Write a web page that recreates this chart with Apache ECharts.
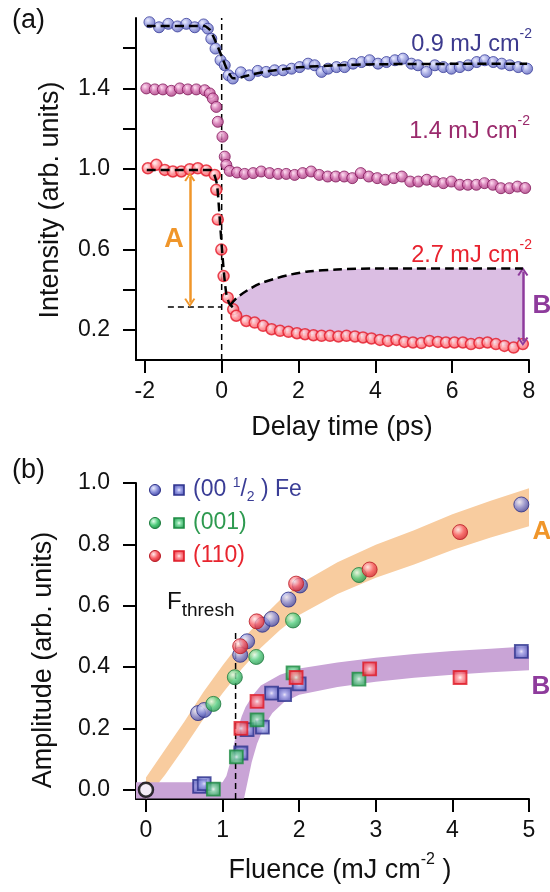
<!DOCTYPE html>
<html><head><meta charset="utf-8">
<script src="https://cdn.jsdelivr.net/npm/echarts@6/dist/echarts.min.js"></script>
<style>html,body{margin:0;padding:0;background:#fff}#c{width:550px;height:892px}</style>
</head><body><div id="c"></div>
<script>
// ---------- Panel (a): delay-time traces ----------
const blueT = [-1.88,-1.63,-1.39,-1.15,-0.92,-0.70,-0.47,-0.36,-0.27,-0.16,-0.03,0.08,0.18,0.29,0.50,0.72,0.94,1.16,1.38,1.60,1.82,2.03,2.25,2.42,2.60,2.77,2.99,3.20,3.42,3.64,3.85,4.07,4.29,4.51,4.72,4.94,5.11,5.33,5.55,5.77,5.98,6.20,6.42,6.64,6.85,7.07,7.29,7.50,7.72,7.95];
const blueI = [1.729,1.704,1.721,1.708,1.721,1.704,1.718,1.697,1.647,1.598,1.54,1.515,1.465,1.449,1.48,1.465,1.487,1.482,1.49,1.49,1.498,1.506,1.523,1.515,1.482,1.498,1.506,1.506,1.523,1.531,1.54,1.523,1.531,1.54,1.548,1.523,1.515,1.482,1.515,1.506,1.498,1.506,1.515,1.531,1.54,1.531,1.523,1.515,1.506,1.498];

const magentaT = [-1.96,-1.74,-1.53,-1.31,-1.09,-0.88,-0.66,-0.44,-0.31,-0.23,-0.14,-0.10,0.02,0.08,0.12,0.21,0.40,0.60,0.82,1.03,1.25,1.47,1.68,1.90,2.11,2.33,2.54,2.76,2.97,3.19,3.40,3.62,3.83,4.05,4.26,4.48,4.69,4.91,5.12,5.34,5.55,5.77,5.98,6.20,6.41,6.63,6.84,7.06,7.27,7.49,7.70,7.90];
const magentaI = [1.40,1.395,1.395,1.388,1.40,1.395,1.395,1.391,1.375,1.35,1.308,1.234,1.16,1.061,1.02,0.99,0.982,0.975,0.979,0.987,0.979,0.975,0.975,0.970,0.979,0.987,0.970,0.962,0.962,0.962,0.954,0.979,0.962,0.954,0.946,0.954,0.962,0.937,0.937,0.946,0.937,0.929,0.937,0.921,0.921,0.921,0.929,0.921,0.904,0.904,0.912,0.905];

const redT = [-1.92,-1.70,-1.48,-1.27,-1.05,-0.83,-0.62,-0.40,-0.18,-0.14,-0.10,-0.01,0.05,0.16,0.30,0.38,0.64,0.86,1.08,1.30,1.52,1.74,1.96,2.17,2.39,2.60,2.82,3.04,3.25,3.47,3.68,3.90,4.12,4.33,4.55,4.76,4.98,5.20,5.41,5.63,5.84,6.06,6.28,6.49,6.71,6.92,7.14,7.36,7.60,7.84];
const redI = [1.003,1.02,0.995,0.987,0.987,0.998,1.003,0.992,0.97,0.896,0.748,0.599,0.467,0.36,0.302,0.27,0.244,0.236,0.22,0.203,0.195,0.19,0.183,0.178,0.173,0.170,0.170,0.167,0.170,0.167,0.162,0.157,0.150,0.145,0.150,0.140,0.137,0.134,0.145,0.140,0.137,0.137,0.137,0.129,0.134,0.137,0.129,0.12,0.112,0.129];

// fit curves (dashed)
const blueFitT = [-1.95,-0.45,-0.3,-0.15,0,0.15,0.3,0.5,0.8,1.2,1.6,2.0,3.0,4.0,6.0,7.95];
const blueFitI = [1.71,1.71,1.69,1.63,1.56,1.49,1.45,1.455,1.47,1.485,1.495,1.505,1.515,1.52,1.522,1.522];
const redFitT = [-1.95,-0.3,-0.2,-0.12,-0.06,0.0,0.06,0.12,0.2,0.3];
const redFitI = [0.995,0.995,0.975,0.92,0.78,0.62,0.48,0.38,0.33,0.31];
const recFitT = [0.22,0.4,0.7,1.0,1.4,1.8,2.25,3.0,4.0,5.0,6.0,7.84];
const recFitI = [0.322,0.36,0.40,0.43,0.455,0.475,0.49,0.50,0.505,0.505,0.505,0.505];

// guide lines / arrows in (a)
const zeroLineT = [0,0];        const zeroLineI = [0.05,1.75];
const levelLineT = [-1.4,0];    const levelLineI = [0.313,0.313];
const arrowA = {t:-0.83, from:0.96, to:0.335};
const arrowB = {t:7.84, from:0.49, to:0.142};

// ---------- Panel (b): fluence dependence ----------
const blueCircF = [0.68,0.76,1.23,1.32,1.52,1.64,1.86,2.01,4.90];
const blueCircA = [0.25,0.26,0.44,0.484,0.538,0.557,0.62,0.666,0.93];
const greenCircF = [0.88,1.16,1.44,1.92,2.78];
const greenCircA = [0.28,0.367,0.433,0.552,0.70];
const redCircF = [1.23,1.445,1.96,2.92,4.10];
const redCircA = [0.468,0.549,0.672,0.718,0.84];

const blueSqF = [0.70,0.76,1.24,1.32,1.52,1.64,1.81,2.00,4.90];
const blueSqA = [0.011,0.02,0.12,0.196,0.204,0.315,0.31,0.345,0.451];
const greenSqF = [0.88,1.18,1.45,1.92,2.78];
const greenSqA = [0.002,0.107,0.228,0.381,0.361];
const redSqF = [1.24,1.45,1.96,2.92,4.10];
const redSqA = [0.20,0.288,0.366,0.394,0.366];

const originF = [0]; const originA = [0];
const threshF = [1.17,1.17]; const threshA = [-0.03,0.52];

// shaded bands
const bandAF = [0,0.25,0.5,0.75,1.0,1.25,1.5,1.75,2.0,2.5,3.0,3.5,4.0,4.5,5.0];
const bandAUpper = [0.04,0.131,0.222,0.319,0.405,0.486,0.557,0.619,0.67,0.742,0.799,0.846,0.898,0.942,0.983];
const bandALower = [-0.03,0.049,0.138,0.231,0.315,0.394,0.463,0.521,0.57,0.638,0.691,0.734,0.782,0.822,0.859];
const bandBUpperF = [-0.13,1.0,1.05,1.1,1.15,1.2,1.25,1.3,1.4,1.5,1.75,2.0,2.5,3.0,3.5,4.0,4.5,5.0];
const bandBUpper  = [0.025,0.025,0.045,0.09,0.15,0.2,0.24,0.27,0.31,0.34,0.375,0.395,0.415,0.43,0.443,0.452,0.46,0.468];
const bandBLowerF = [-0.13,1.28,1.33,1.38,1.45,1.55,1.65,1.8,2.0,2.5,3.0,3.5,4.0,4.5,5.0];
const bandBLower  = [-0.028,-0.028,0.03,0.09,0.15,0.21,0.25,0.285,0.31,0.335,0.352,0.365,0.375,0.383,0.39];

// tick values
const aXTicks = [-2,0,2,4,6,8];
const aYTicks = [0.2,0.4,0.6,0.8,1.0,1.2,1.4,1.6];
const aYLabels = [0.2,0.6,1.0,1.4];
const bXTicks = [0,1,2,3,4,5];
const bYTicks = [0,0.2,0.4,0.6,0.8,1.0];

// ---------- helpers ----------
const FONT = '"Liberation Sans", Arial, Helvetica, sans-serif';
const pairs = (xs, ys) => xs.map((x, i) => [x, ys[i]]);
const radial = (c0, c1, c2) => ({type:'radial', x:0.38, y:0.35, r:0.72,
  colorStops:[{offset:0,color:c0},{offset:0.5,color:c1},{offset:1,color:c2}]});
const squareFill = (c0, c1, c2) => ({type:'radial', x:0.5, y:0.5, r:0.5,
  colorStops:[{offset:0,color:c0},{offset:0.3,color:c1},{offset:1,color:c2}]});

function polyRender(upX, upY, loX, loY, fill) {
  return function (params, api) {
    const pts = [];
    for (let i = 0; i < upX.length; i++) pts.push(api.coord([upX[i], upY[i]]));
    for (let i = loX.length - 1; i >= 0; i--) pts.push(api.coord([loX[i], loY[i]]));
    return {type:'polygon', shape:{points:pts}, style:{fill:fill}};
  };
}
// fill region of (a): between recovery fit and red data
const fillLowT = redT.filter(t => t >= 0.3);
const fillLowI = redI.filter((v, i) => redT[i] >= 0.3);

const axisCommon = {
  axisLine:{onZero:false, lineStyle:{color:'#000', width:2}},
  splitLine:{show:false}
};
const labelStyle = {fontSize:23, color:'#111', fontFamily:FONT};
const tickStyle = vals => ({customValues:vals, length:13, lineStyle:{color:'#000', width:2}});

function text(x, y, str, size, color, extra) {
  const st = Object.assign({text:str, fontSize:size, fontFamily:FONT, fill:color,
    align:'left', textAlign:'left', verticalAlign:'middle', textVerticalAlign:'middle'}, extra || {});
  return {type:'text', x:x, y:y, z:100, style:st};
}
function supText(x, y, main, sup, tail, size, color, align) {
  return text(x, y, '{n|' + main + '}{s|' + sup + '}' + (tail ? '{n|' + tail + '}' : ''), size, color, {
    align: align, textAlign: align,
    rich:{n:{fontSize:size, fontFamily:FONT, fill:color, lineHeight:size + 6, verticalAlign:'bottom'},
          s:{fontSize:Math.round(size*0.6), fontFamily:FONT, fill:color, verticalAlign:'top', lineHeight:size + 6}}
  });
}

// marker styles
const sqBlue  = {color:squareFill('#f4f5ff','#a9aeee','#5a60bc'), borderColor:'#30358f', borderWidth:1.8};
const sqGreen = {color:squareFill('#f2fff6','#8fe2ae','#2ea65c'), borderColor:'#1f8c44', borderWidth:1.8};
const sqRed   = {color:squareFill('#fff6f6','#ffa2a8','#ee3c48'), borderColor:'#de1c28', borderWidth:1.8};
const ciBlue  = {color:radial('#eceeff','#868cd8','#363b98'), borderColor:'#2c3088', borderWidth:1};
const ciGreen = {color:radial('#e6ffee','#4fcb7b','#1d8644'), borderColor:'#1b7a3c', borderWidth:1};
const ciRed   = {color:radial('#ffeeee','#f85c64','#c61c26'), borderColor:'#b81a24', borderWidth:1};

const chart = echarts.init(document.getElementById('c'), null, {renderer:'canvas'});
const dash = {color:'#000', width:2.5, type:[9,5]};
const thin = {color:'#000', width:1.5, type:[6,4]};
const chevron = 'path://M5,0 L10,9 L8.4,10 L5,3.6 L1.6,10 L0,9 Z';

const option = {
  animation:false,
  backgroundColor:'#fff',
  grid:[
    {left:136, top:18, width:393, height:342},
    {left:136, top:483, width:393, height:316}
  ],
  xAxis:[
    Object.assign({type:'value', gridIndex:0, min:-2.23, max:8,
      axisLabel:Object.assign({customValues:aXTicks, margin:20}, labelStyle), axisTick:tickStyle(aXTicks)}, axisCommon),
    Object.assign({type:'value', gridIndex:1, min:-0.13, max:5,
      axisLabel:Object.assign({customValues:bXTicks, margin:20}, labelStyle), axisTick:tickStyle(bXTicks)}, axisCommon)
  ],
  yAxis:[
    Object.assign({type:'value', gridIndex:0, min:0.05, max:1.75,
      axisLabel:Object.assign({customValues:aYLabels, margin:26, formatter:v => v.toFixed(1)}, labelStyle), axisTick:tickStyle(aYTicks)}, axisCommon),
    Object.assign({type:'value', gridIndex:1, min:-0.03, max:1.0,
      axisLabel:Object.assign({customValues:bYTicks, margin:26, formatter:v => v.toFixed(1)}, labelStyle), axisTick:tickStyle(bYTicks)}, axisCommon)
  ],
  series:[
    // ----- panel a -----
    {type:'custom', name:'B region', xAxisIndex:0, yAxisIndex:0, data:[[0,0]], z:1, silent:true,
      renderItem: polyRender(recFitT, recFitI, fillLowT, fillLowI, '#dbbee3')},
    {type:'line', name:'t=0', xAxisIndex:0, yAxisIndex:0, data:pairs(zeroLineT, zeroLineI), showSymbol:false, lineStyle:thin, z:2, silent:true},
    {type:'line', name:'level', xAxisIndex:0, yAxisIndex:0, data:pairs(levelLineT, levelLineI), showSymbol:false, lineStyle:thin, z:2, silent:true},
    {type:'scatter', name:'0.9 mJ cm-2', xAxisIndex:0, yAxisIndex:0, data:pairs(blueT, blueI), symbolSize:11, z:4,
      itemStyle:{color:radial('#e4e6ff','#8f95dc','#4e54ac'), borderColor:'#3a3f9c', borderWidth:1}},
    {type:'scatter', name:'1.4 mJ cm-2', xAxisIndex:0, yAxisIndex:0, data:pairs(magentaT, magentaI), symbolSize:11, z:4,
      itemStyle:{color:radial('#ffd6ee','#cc62a6','#96306f'), borderColor:'#84195c', borderWidth:1}},
    {type:'scatter', name:'2.7 mJ cm-2', xAxisIndex:0, yAxisIndex:0, data:pairs(redT, redI), symbolSize:11, z:4,
      itemStyle:{color:radial('#fff0f0','#ff8088','#f04452'), borderColor:'#e41c2a', borderWidth:1.5}},
    {type:'line', name:'fit 0.9', xAxisIndex:0, yAxisIndex:0, data:pairs(blueFitT, blueFitI), showSymbol:false, smooth:0.2, lineStyle:dash, z:5, silent:true},
    {type:'line', name:'fit 2.7', xAxisIndex:0, yAxisIndex:0, data:pairs(redFitT, redFitI), showSymbol:false, smooth:0.2, lineStyle:dash, z:5, silent:true},
    {type:'line', name:'recovery', xAxisIndex:0, yAxisIndex:0, data:pairs(recFitT, recFitI), showSymbol:false, smooth:0.3, lineStyle:dash, z:5, silent:true},
    {type:'line', name:'arrows', xAxisIndex:0, yAxisIndex:0, data:[], z:6, silent:true,
      markLine:{silent:true, symbol:[chevron, chevron], symbolSize:[11,9], label:{show:false}, animation:false,
        data:[
          [{coord:[arrowA.t, arrowA.from], lineStyle:{color:'#f0962a', width:2.5, type:'solid'}, itemStyle:{color:'#f0962a'}},
           {coord:[arrowA.t, arrowA.to]}],
          [{coord:[arrowB.t, arrowB.from], lineStyle:{color:'#8e3b9c', width:2.5, type:'solid'}, itemStyle:{color:'#8e3b9c'}},
           {coord:[arrowB.t, arrowB.to]}]
        ]}},
    // ----- panel b -----
    {type:'custom', name:'A band', xAxisIndex:1, yAxisIndex:1, data:[[0,0]], z:1, silent:true,
      renderItem: polyRender(bandAF, bandAUpper, bandAF, bandALower, '#f8cc9f')},
    {type:'custom', name:'B band', xAxisIndex:1, yAxisIndex:1, data:[[0,0]], z:1, silent:true,
      renderItem: polyRender(bandBUpperF, bandBUpper, bandBLowerF, bandBLower, '#c9a4d6')},
    {type:'line', name:'F thresh', xAxisIndex:1, yAxisIndex:1, data:pairs(threshF, threshA), showSymbol:false, lineStyle:thin, z:2, silent:true},
    {type:'scatter', name:'(00 1/2) Fe A', xAxisIndex:1, yAxisIndex:1, data:pairs(blueCircF, blueCircA), symbolSize:15, z:4, itemStyle:ciBlue},
    {type:'scatter', name:'(001) A', xAxisIndex:1, yAxisIndex:1, data:pairs(greenCircF, greenCircA), symbolSize:15, z:4, itemStyle:ciGreen},
    {type:'scatter', name:'(110) A', xAxisIndex:1, yAxisIndex:1, data:pairs(redCircF, redCircA), symbolSize:15, z:4, itemStyle:ciRed},
    {type:'scatter', name:'(00 1/2) Fe B', xAxisIndex:1, yAxisIndex:1, data:pairs(blueSqF, blueSqA), symbol:'rect', symbolSize:13, z:4, itemStyle:sqBlue},
    {type:'scatter', name:'(001) B', xAxisIndex:1, yAxisIndex:1, data:pairs(greenSqF, greenSqA), symbol:'rect', symbolSize:13, z:4, itemStyle:sqGreen},
    {type:'scatter', name:'(110) B', xAxisIndex:1, yAxisIndex:1, data:pairs(redSqF, redSqA), symbol:'rect', symbolSize:13, z:4, itemStyle:sqRed},
    {type:'scatter', name:'origin', xAxisIndex:1, yAxisIndex:1, data:pairs(originF, originA), symbolSize:14, z:6,
      itemStyle:{color:'#fff', borderColor:'#000', borderWidth:2.5}}
  ],
  graphic:[
    text(12, 21, '(a)', 27, '#111'),
    text(12, 471, '(b)', 27, '#111'),
    Object.assign(text(51, 200, 'Intensity (arb. units)', 27, '#111', {align:'center', textAlign:'center'}), {rotation:Math.PI/2}),
    Object.assign(text(44, 660, 'Amplitude (arb. units)', 27, '#111', {align:'center', textAlign:'center'}), {rotation:Math.PI/2}),
    text(342, 428, 'Delay time (ps)', 27, '#111', {align:'center', textAlign:'center'}),
    supText(340, 868, 'Fluence (mJ cm', '-2', ' )', 27, '#111', 'center'),
    supText(532, 42, '0.9 mJ cm', '-2', '', 23.5, '#3c3a8e', 'right'),
    supText(530, 129, '1.4 mJ cm', '-2', '', 23.5, '#9a2a6c', 'right'),
    supText(532, 253, '2.7 mJ cm', '-2', '', 23.5, '#e8222e', 'right'),
    text(174, 240, 'A', 27, '#f0962a', {align:'center', textAlign:'center', fontWeight:'bold'}),
    text(542, 306, 'B', 26, '#8e3b9c', {align:'center', textAlign:'center', fontWeight:'bold'}),
    text(542, 532, 'A', 26, '#f0962a', {align:'center', textAlign:'center', fontWeight:'bold'}),
    text(541, 687, 'B', 26, '#8e3b9c', {align:'center', textAlign:'center', fontWeight:'bold'}),
    text(167, 605, '{f|F}{t|thresh}', 23, '#111', {rich:{
      f:{fontSize:24, fontFamily:FONT, fill:'#111', lineHeight:30, verticalAlign:'top'},
      t:{fontSize:19, fontFamily:FONT, fill:'#111', lineHeight:30, verticalAlign:'bottom'}}}),
    // legend
    {type:'circle', z:100, shape:{cx:155, cy:490, r:5.5}, style:{fill:ciBlue.color, stroke:ciBlue.borderColor, lineWidth:1}},
    {type:'circle', z:100, shape:{cx:155, cy:523, r:5.5}, style:{fill:ciGreen.color, stroke:ciGreen.borderColor, lineWidth:1}},
    {type:'circle', z:100, shape:{cx:155, cy:556, r:5.5}, style:{fill:ciRed.color, stroke:ciRed.borderColor, lineWidth:1}},
    {type:'rect', z:100, shape:{x:174, y:485, width:10, height:10}, style:{fill:sqBlue.color, stroke:sqBlue.borderColor, lineWidth:1.6}},
    {type:'rect', z:100, shape:{x:174, y:518, width:10, height:10}, style:{fill:sqGreen.color, stroke:sqGreen.borderColor, lineWidth:1.6}},
    {type:'rect', z:100, shape:{x:174, y:551, width:10, height:10}, style:{fill:sqRed.color, stroke:sqRed.borderColor, lineWidth:1.6}},
    text(193, 490, '{n|(00 }{s|1}{n|/}{b|2}{n| ) Fe}', 23, '#3a3d96', {rich:{
      n:{fontSize:23, fontFamily:FONT, fill:'#3a3d96', lineHeight:28, verticalAlign:'middle'},
      s:{fontSize:14, fontFamily:FONT, fill:'#3a3d96', lineHeight:28, verticalAlign:'top'},
      b:{fontSize:14, fontFamily:FONT, fill:'#3a3d96', lineHeight:28, verticalAlign:'bottom'}}}),
    text(193, 523, '(001)', 23, '#2e9a50'),
    text(193, 556, '(110)', 23, '#e8242e')
  ]
};
chart.setOption(option);
</script></body></html>
